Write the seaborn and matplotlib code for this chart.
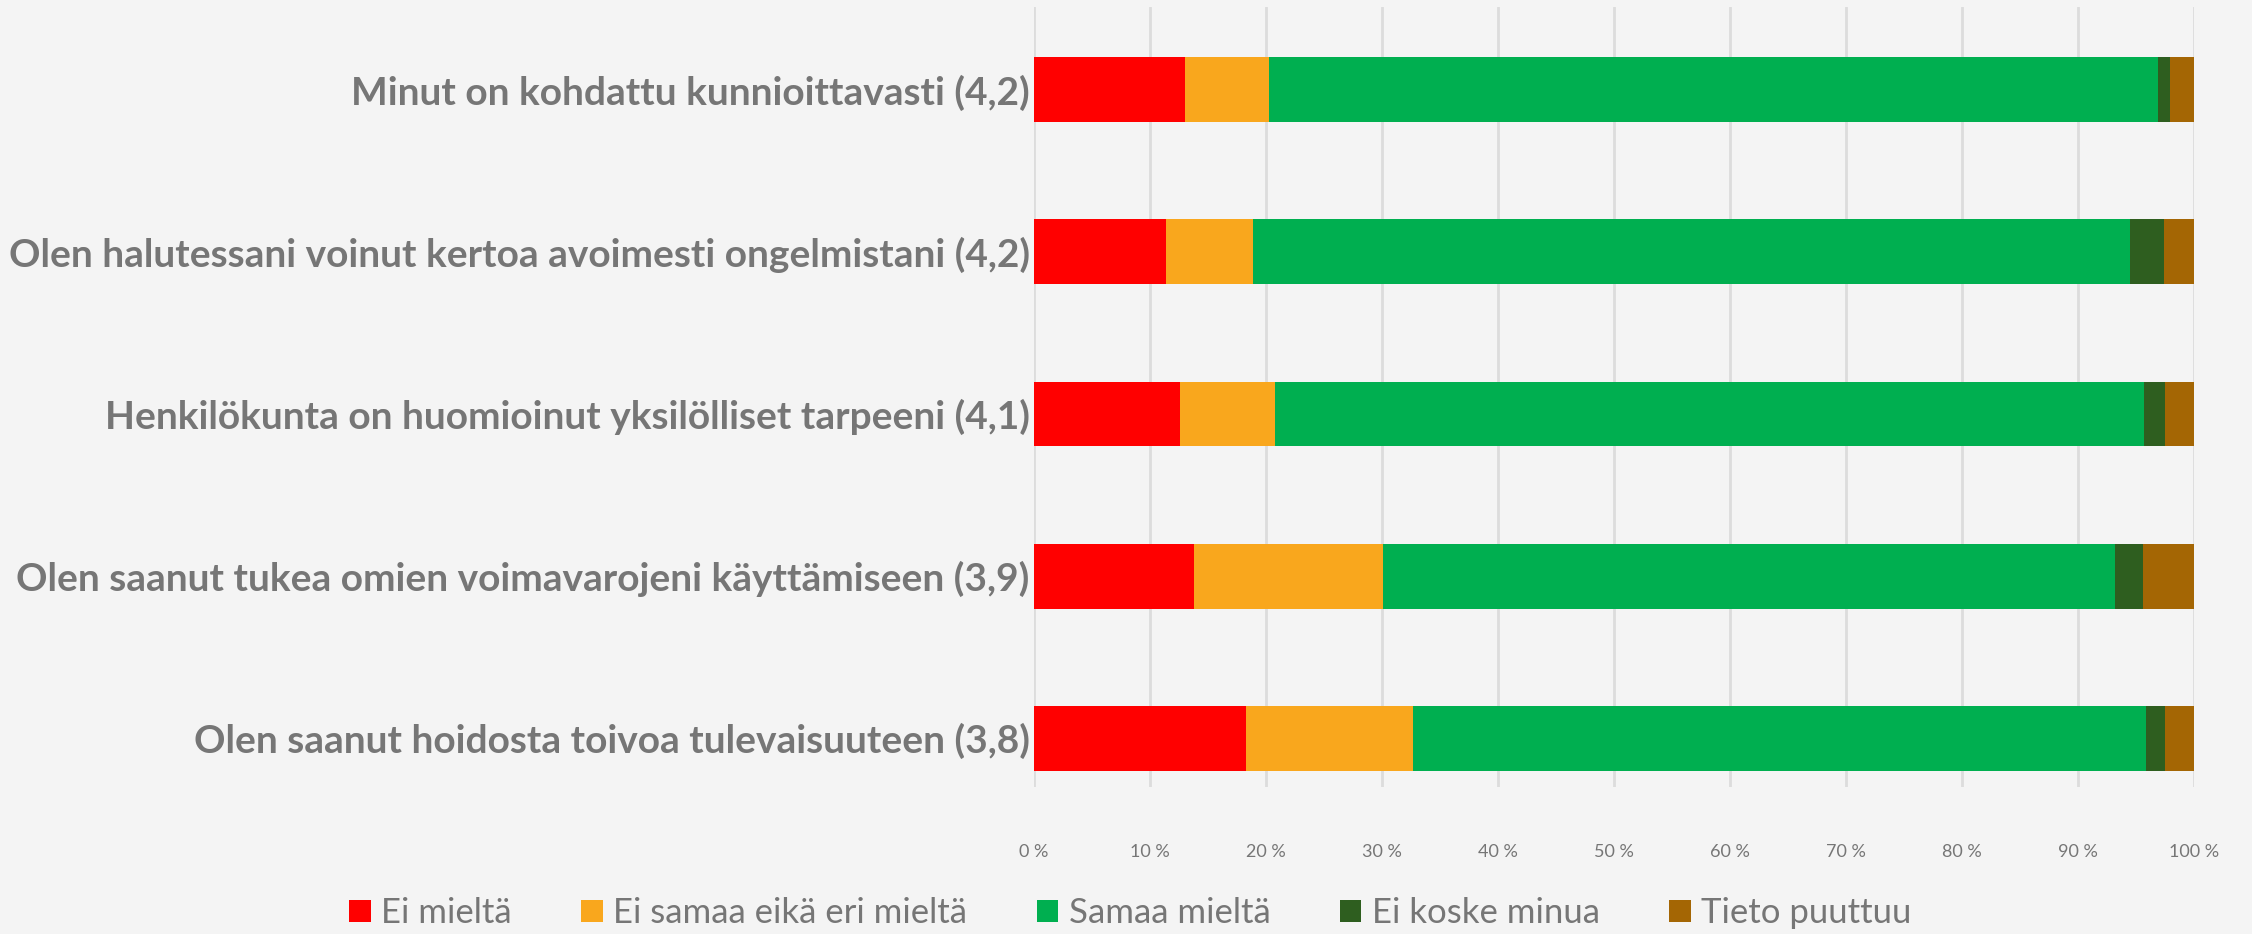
import numpy as np
import pandas as pd
import matplotlib.pyplot as plt
import seaborn as sns
from matplotlib.patches import Patch

# -------------------------
# Data (percentages)
# -------------------------
statements = [
    "Minut on kohdattu kunnioittavasti (4,2)",
    "Olen halutessani voinut kertoa avoimesti ongelmistani (4,2)",
    "Henkilökunta on huomioinut yksilölliset tarpeeni (4,1)",
    "Olen saanut tukea omien voimavarojeni käyttämiseen (3,9)",
    "Olen saanut hoidosta toivoa tulevaisuuteen (3,8)",
]
answers = ["Ei mieltä", "Ei samaa eikä eri mieltä", "Samaa mieltä",
           "Ei koske minua", "Tieto puuttuu"]

ei_mielta = [13.0, 11.4, 12.6, 13.8, 18.3]
ei_samaa_eika_eri = [7.3, 7.5, 8.2, 16.3, 14.4]
samaa_mielta = [76.6, 75.6, 74.9, 63.1, 63.2]
ei_koske = [1.0, 2.9, 1.8, 2.4, 1.6]
tieto_puuttuu = [2.1, 2.6, 2.5, 4.4, 2.5]

colors = ["#FF0000", "#F9A71D", "#00AF50", "#2E5E1F", "#A46604"]
tick_vals = [0, 10, 20, 30, 40, 50, 60, 70, 80, 90, 100]

# -------------------------
# Build table, cumulative sums for stacking
# -------------------------
df = pd.DataFrame(
    {a: v for a, v in zip(answers, [ei_mielta, ei_samaa_eika_eri, samaa_mielta,
                                    ei_koske, tieto_puuttuu])},
    index=statements,
)
cum = df.cumsum(axis=1)

bg = "#F4F4F4"
txt = "#767676"

sns.set_theme(style="white")
plt.rcParams["font.family"] = ["Lato", "DejaVu Sans"]

fig = plt.figure(figsize=(22.52, 9.34), dpi=100, facecolor=bg)
ax = fig.add_axes([0.4591, 0.1574, 0.5151, 0.8351], facecolor=bg)

# draw from the widest cumulative layer back to front
for ans, col in reversed(list(zip(answers, colors))):
    sns.barplot(x=cum[ans].values, y=cum.index, color=col, orient="h",
                width=0.4, ax=ax, saturation=1, linewidth=0, zorder=3)

ax.set_xlim(0, 100)
ax.set_ylim(4.30, -0.51)
ax.set_xticks(tick_vals)
ax.set_xticklabels([f"{v} %" for v in tick_vals], color=txt, fontsize=13)
ax.tick_params(axis="x", length=0, pad=41)
ax.tick_params(axis="y", length=0, pad=3)
for lab in ax.get_yticklabels():
    lab.set_fontsize(28)
    lab.set_fontweight("bold")
    lab.set_color(txt)
ax.set_xlabel("")
ax.set_ylabel("")
ax.grid(axis="x", color="#DCDCDC", linewidth=2, zorder=0)
ax.grid(axis="y", visible=False)
for s in ax.spines.values():
    s.set_visible(False)

handles = [Patch(facecolor=c, edgecolor="none") for c in colors]
leg = fig.legend(handles, answers, loc="center", bbox_to_anchor=(0.502, 0.022),
                 ncol=5, frameon=False, handlelength=0.62,
                 handleheight=0.62, handletextpad=0.3, columnspacing=2.0,
                 prop={"family": ["Lato", "DejaVu Sans"], "size": 25})
for t in leg.get_texts():
    t.set_color(txt)

fig.savefig("out.png", dpi=100, facecolor=bg)
